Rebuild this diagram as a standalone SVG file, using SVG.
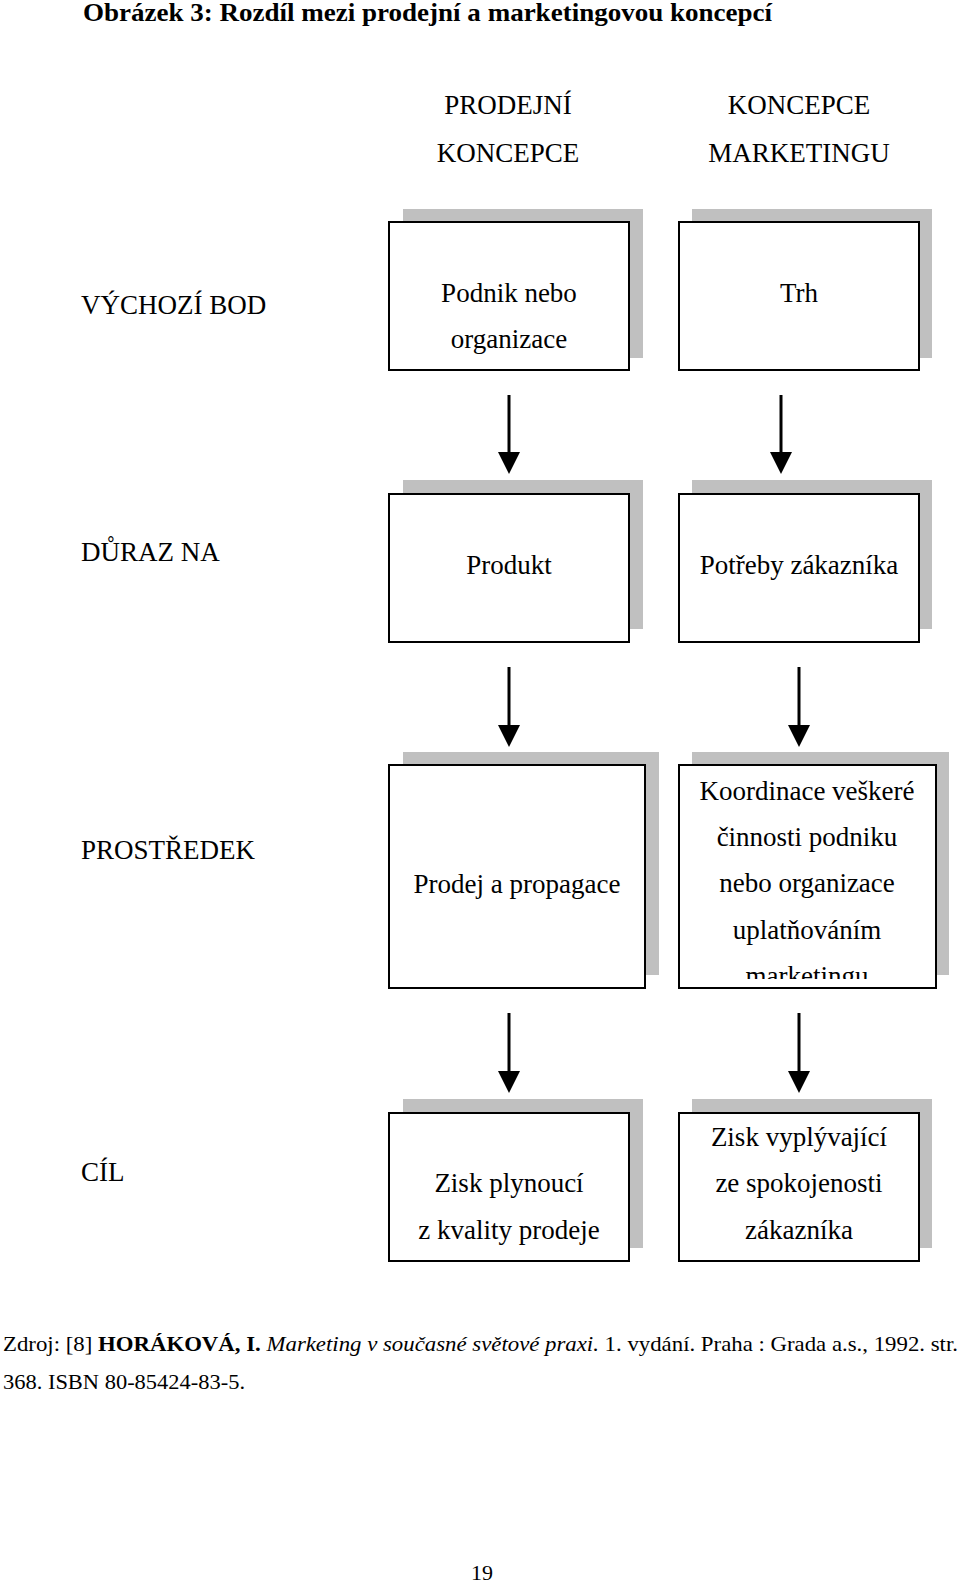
<svg xmlns="http://www.w3.org/2000/svg" width="960" height="1583" viewBox="0 0 960 1583">
<style>
text{font-family:"Liberation Serif","Times New Roman",serif;fill:#000}
.t{font-size:27px}
.c{text-anchor:middle}
.sh{fill:#c0c0c0}
.bx{fill:#fff;stroke:#000;stroke-width:2}
.ar{stroke:#000;stroke-width:3;fill:none}
</style>
<defs>
<clipPath id="clipK"><rect x="679" y="765" width="256" height="214"/></clipPath>
</defs>
<rect width="960" height="1583" fill="#fff"/>
<text x="83" y="21" font-size="26" font-weight="bold" textLength="689" lengthAdjust="spacingAndGlyphs">Obrázek 3: Rozdíl mezi prodejní a marketingovou koncepcí</text>
<g id="headers">
<text class="t c" x="508" y="114">PRODEJNÍ</text>
<text class="t c" x="508" y="162">KONCEPCE</text>
<text class="t c" x="799" y="114">KONCEPCE</text>
<text class="t c" x="799" y="162">MARKETINGU</text>
</g>
<g id="rowlabels">
<text class="t" x="81" y="314">VÝCHOZÍ BOD</text>
<text class="t" x="81" y="561">DŮRAZ NA</text>
<text class="t" x="81" y="859">PROSTŘEDEK</text>
<text class="t" x="81" y="1181">CÍL</text>
</g>
<g id="n1">
<rect class="sh" x="403" y="209" width="240" height="149"/>
<rect class="bx" x="389" y="222" width="240" height="148"/>
<text class="t c" x="509" y="302">Podnik nebo</text>
<text class="t c" x="509" y="348">organizace</text>
</g>
<g id="n2">
<rect class="sh" x="692" y="209" width="240" height="149"/>
<rect class="bx" x="679" y="222" width="240" height="148"/>
<text class="t c" x="799" y="302">Trh</text>
</g>
<g id="n3">
<rect class="sh" x="403" y="480" width="240" height="149"/>
<rect class="bx" x="389" y="494" width="240" height="148"/>
<text class="t c" x="509" y="574">Produkt</text>
</g>
<g id="n4">
<rect class="sh" x="692" y="480" width="240" height="149"/>
<rect class="bx" x="679" y="494" width="240" height="148"/>
<text class="t c" x="799" y="574">Potřeby zákazníka</text>
</g>
<g id="n5">
<rect class="sh" x="403" y="752" width="256" height="223"/>
<rect class="bx" x="389" y="765" width="256" height="223"/>
<text class="t c" x="517" y="893">Prodej a propagace</text>
</g>
<g id="n6">
<rect class="sh" x="692" y="752" width="257" height="223"/>
<rect class="bx" x="679" y="765" width="257" height="223"/>
<g clip-path="url(#clipK)">
<text class="t c" x="807" y="800">Koordinace veškeré</text>
<text class="t c" x="807" y="846">činnosti podniku</text>
<text class="t c" x="807" y="892">nebo organizace</text>
<text class="t c" x="807" y="939">uplatňováním</text>
<text class="t c" x="807" y="985">marketingu</text>
</g>
</g>
<g id="n7">
<rect class="sh" x="403" y="1099" width="240" height="149"/>
<rect class="bx" x="389" y="1113" width="240" height="148"/>
<text class="t c" x="509" y="1192">Zisk plynoucí</text>
<text class="t c" x="509" y="1239">z kvality prodeje</text>
</g>
<g id="n8">
<rect class="sh" x="692" y="1099" width="240" height="149"/>
<rect class="bx" x="679" y="1113" width="240" height="148"/>
<text class="t c" x="799" y="1146">Zisk vyplývající</text>
<text class="t c" x="799" y="1192">ze spokojenosti</text>
<text class="t c" x="799" y="1239">zákazníka</text>
</g>
<g id="connectors" fill="#000">
<line class="ar" x1="509" y1="395" x2="509" y2="455"/>
<path d="M498,452 L520,452 L509,474 Z"/>
<line class="ar" x1="781" y1="395" x2="781" y2="455"/>
<path d="M770,452 L792,452 L781,474 Z"/>
<line class="ar" x1="509" y1="667" x2="509" y2="728"/>
<path d="M498,725 L520,725 L509,747 Z"/>
<line class="ar" x1="799" y1="667" x2="799" y2="728"/>
<path d="M788,725 L810,725 L799,747 Z"/>
<line class="ar" x1="509" y1="1013" x2="509" y2="1074"/>
<path d="M498,1071 L520,1071 L509,1093 Z"/>
<line class="ar" x1="799" y1="1013" x2="799" y2="1074"/>
<path d="M788,1071 L810,1071 L799,1093 Z"/>
</g>
<g id="footer">
<text x="3" y="1351" font-size="21" textLength="955" lengthAdjust="spacingAndGlyphs">Zdroj: [8] <tspan font-weight="bold">HORÁKOVÁ, I.</tspan> <tspan font-style="italic">Marketing v současné světové praxi.</tspan> 1. vydání. Praha : Grada a.s., 1992. str.</text>
<text x="3" y="1389" font-size="21" textLength="242" lengthAdjust="spacingAndGlyphs">368. ISBN 80-85424-83-5.</text>
<text class="c" x="482" y="1580" font-size="22">19</text>
</g>
</svg>
